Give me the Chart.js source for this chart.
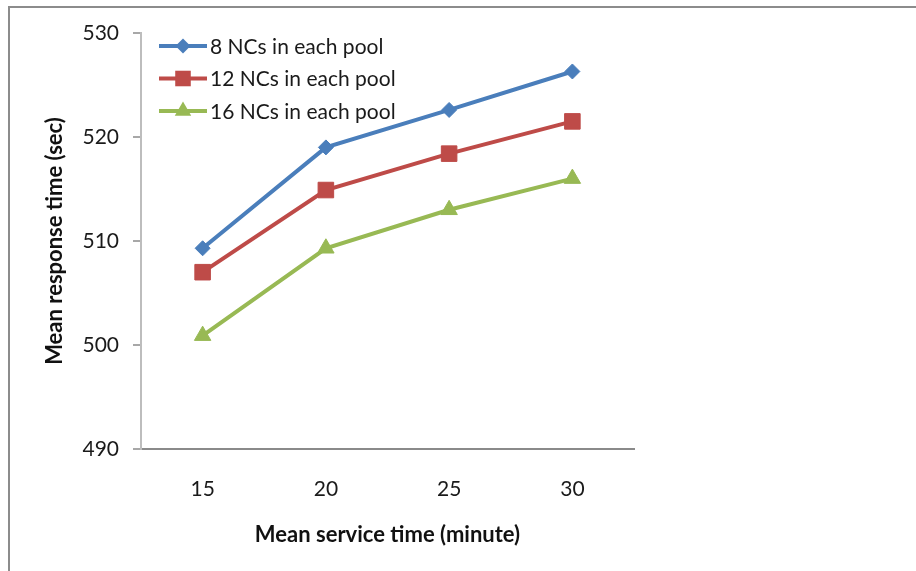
<!DOCTYPE html>
<html>
<head>
<meta charset="utf-8">
<script src="https://cdn.jsdelivr.net/npm/chart.js@4.4.1/dist/chart.umd.min.js"></script>
<style>
  html, body { margin: 0; padding: 0; background: #fff; overflow: hidden; }
  #frame { position: absolute; left: 8px; top: 6px; width: 940px; height: 620px; border: 2px solid #8c8c8c; }
  #wrap { position: absolute; left: 0; top: 0; width: 916px; height: 571px; }
</style>
</head>
<body>
<div id="frame"></div>
<div id="wrap"><canvas id="chart" width="916" height="571"></canvas></div>
<script>
// chart values
const serviceTimes = ['15', '20', '25', '30'];
const nc8 = [509.3, 519.0, 522.6, 526.3];
const nc12 = [507.0, 514.9, 518.4, 521.5];
const nc16 = [500.9, 509.3, 513.0, 516.0];
const seriesNames = ['8 NCs in each pool', '12 NCs in each pool', '16 NCs in each pool'];
const yMin = 490, yMax = 530, yStep = 10;

const fontFam = 'Lato, "Open Sans", sans-serif';

// draws one marker shape, same geometry chart.js uses
function marker(ctx, style, r, x, y) {
    ctx.beginPath();
    if (style === 'rectRot') {
        ctx.moveTo(x - r, y); ctx.lineTo(x, y - r); ctx.lineTo(x + r, y); ctx.lineTo(x, y + r);
    } else if (style === 'rect') {
        const s = Math.SQRT1_2 * r;
        ctx.rect(x - s, y - s, 2 * s, 2 * s);
    } else {
        let rad = 0;
        ctx.moveTo(x + Math.sin(rad) * r, y - Math.cos(rad) * r);
        rad += 2 * Math.PI / 3;
        ctx.lineTo(x + Math.sin(rad) * r, y - Math.cos(rad) * r);
        rad += 2 * Math.PI / 3;
        ctx.lineTo(x + Math.sin(rad) * r, y - Math.cos(rad) * r);
    }
    ctx.closePath();
    ctx.fill();
}

// excel style legend inside the plot
const innerLegend = {
    id: 'innerLegend',
    afterDraw(chart) {
        const ctx = chart.ctx;
        ctx.save();
        chart.data.datasets.forEach((ds, i) => {
            const y = 46 + i * 32.5;
            ctx.strokeStyle = ds.borderColor;
            ctx.fillStyle = ds.borderColor;
            ctx.lineWidth = ds.borderWidth;
            ctx.beginPath();
            ctx.moveTo(159, y);
            ctx.lineTo(207, y);
            ctx.stroke();
            marker(ctx, ds.pointStyle, ds.pointRadius, 183, y);
            ctx.fillStyle = '#1a1a1a';
            ctx.font = '21px ' + fontFam;
            ctx.textBaseline = 'middle';
            ctx.textAlign = 'left';
            ctx.fillText(ds.label, 210, y + 1);
        });
        ctx.restore();
    }
};

const mk = (label, data, color, style, r) => ({
    label, data,
    borderColor: color, backgroundColor: color,
    borderWidth: 4,
    pointStyle: style, pointRadius: r, pointHoverRadius: r,
    pointBorderWidth: 1, pointBackgroundColor: color, pointBorderColor: color,
    tension: 0
});

new Chart(document.getElementById('chart'), {
    type: 'line',
    data: {
        labels: serviceTimes,
        datasets: [
            mk(seriesNames[0], nc8, '#4a7ebb', 'rectRot', 7.5),
            mk(seriesNames[1], nc12, '#be4b48', 'rect', 11),
            mk(seriesNames[2], nc16, '#98b954', 'triangle', 9.5)
        ]
    },
    options: {
        responsive: false,
        animation: false,
        layout: { padding: { left: 0, top: 33, right: 282, bottom: 0 } },
        plugins: { legend: { display: false }, tooltip: { enabled: false } },
        scales: {
            x: {
                offset: true,
                grid: { display: true, drawOnChartArea: false, drawTicks: false },
                border: { color: '#8a8a8a', width: 2 },
                ticks: { color: '#1a1a1a', font: { family: fontFam, size: 21 }, padding: 28 },
                title: { display: true, text: 'Mean service time (minute)', color: '#111',
                    font: { family: fontFam, size: 22, weight: 'bold' }, padding: { top: 0, bottom: 23 } },
                afterFit: (s) => { s.height = 122; }
            },
            y: {
                min: yMin, max: yMax,
                ticks: { stepSize: yStep, color: '#1a1a1a', font: { family: fontFam, size: 21 }, padding: 14 },
                grid: { drawOnChartArea: false, drawTicks: true, tickLength: 8, color: '#a8a8a8', lineWidth: 2 },
                border: { color: '#bdbdbd', width: 2 },
                title: { display: true, text: 'Mean response time (sec)', color: '#111',
                    font: { family: fontFam, size: 22, weight: 'bold' }, padding: { top: 42, bottom: 0 } },
                afterFit: (s) => { s.width = 141; }
            }
        }
    },
    plugins: [innerLegend]
});
</script>
</body>
</html>
